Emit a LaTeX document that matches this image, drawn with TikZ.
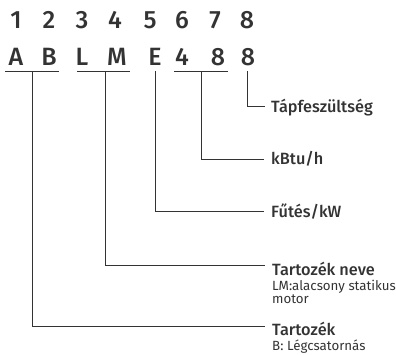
\documentclass[tikz,border=0pt]{standalone}
\usepackage{fontspec}
\setmainfont{Fira Sans}
\newfontfamily\medf{Fira Sans}[UprightFont={* Medium}]
\definecolor{ink}{HTML}{333333}
\begin{document}
\begin{tikzpicture}[x=1pt,y=-1pt,
  big/.style={font=\medf\fontsize{25}{25}\selectfont, text=ink, inner sep=0pt, anchor=base},
  lab/.style={font=\medf\fontsize{16.3}{17}\selectfont, text=ink, inner sep=0pt, anchor=base west},
  sub/.style={font=\fontsize{13.3}{14}\selectfont, text=ink, inner sep=0pt, anchor=base west},
  ln/.style={draw=ink, line width=1pt}]
\useasboundingbox (0,0) rectangle (396,354);
% digits
\foreach \n/\x in {1/16,2/49,3/82,4/115,5/150,6/182,7/215,8/247}
  \node[big] (d\n) at (\x,28) {\n};
% letters
\node[big] (cA) at (16,65) {A};
\node[big] (cB) at (49,65) {B};
\node[big] (cL) at (82,65) {L};
\node[big] (cM) at (117,65) {M};
\node[big] (cE) at (155,65) {E};
\node[big] (c4) at (182,65) {4};
\node[big] (c8a) at (218,65) {8};
\node[big] (c8b) at (248,65) {8};
% labels
\node[lab] (l8) at (271,112) {Tápfeszültség};
\node[lab] (l67) at (271,164) {kBtu/h};
\node[lab] (l5) at (271,217) {Fűtés/kW};
\node[lab] (l34) at (272,275) {Tartozék neve};
\node[sub] (s34a) at (272,290) {LM:alacsony statikus};
\node[sub] (s34b) at (272,303) {motor};
\node[lab] (l12) at (272,335) {Tartozék};
\node[sub] (s12) at (272,350) {B: Légcsatornás};
% underlines
\coordinate (uAB1) at (5,71);  \coordinate (uAB2) at (59,71);
\coordinate (uLM1) at (77,71); \coordinate (uLM2) at (130,71);
\coordinate (u481) at (174,71); \coordinate (u482) at (228,71);
\draw[ln] (uAB1) -- (uAB2);
\draw[ln] (uLM1) -- (uLM2);
\draw[ln] (u481) -- (u482);
% stems
\coordinate (sAB) at (32,71);
\coordinate (sLM) at (105,71);
\coordinate (sE) at (155,71);
\coordinate (s48) at (201,71);
\coordinate (s8) at (247,71);
% line ends
\coordinate (e8) at (265,106);
\coordinate (e48) at (264,159);
\coordinate (eE) at (264,211);
\coordinate (eLM) at (265,265);
\coordinate (eAB) at (265,326);
\draw[ln] (s8) |- (e8);
\draw[ln] (s48) |- (e48);
\draw[ln] (sE) |- (eE);
\draw[ln] (sLM) |- (eLM);
\draw[ln] (sAB) |- (eAB);
\end{tikzpicture}
\end{document}
